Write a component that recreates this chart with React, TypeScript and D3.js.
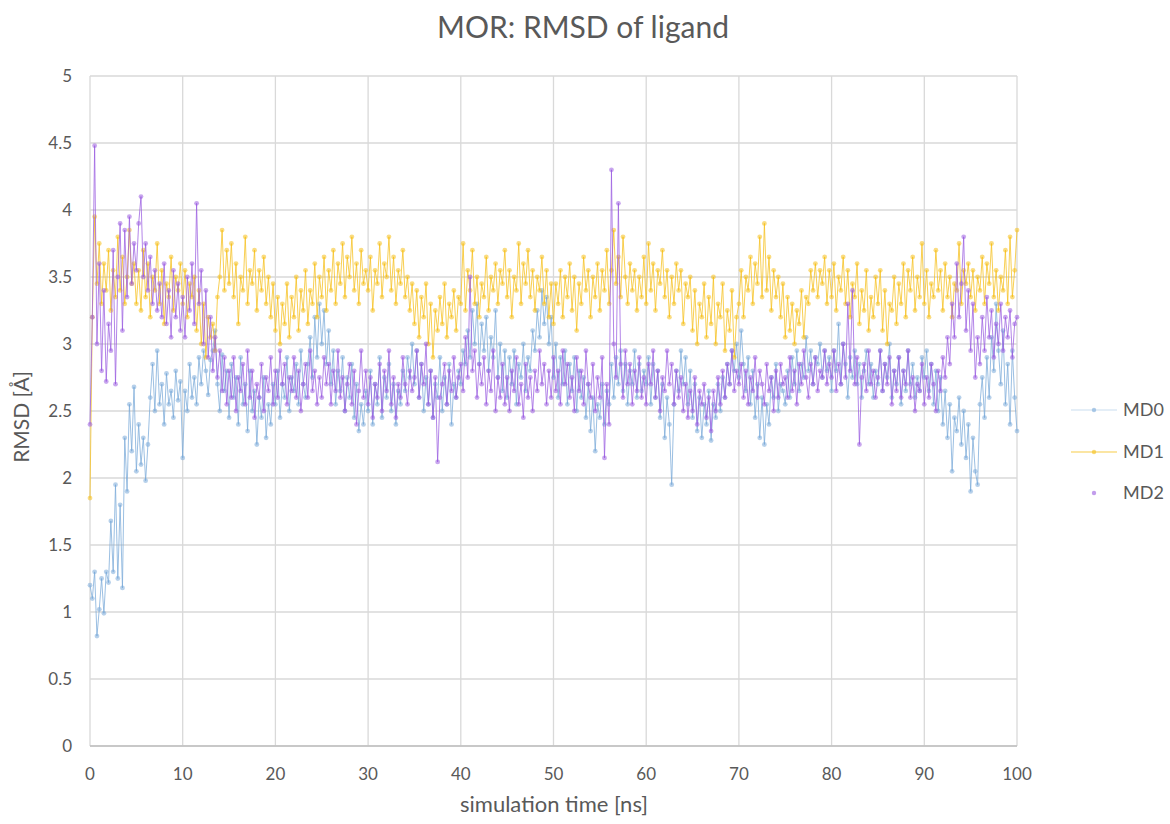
import React from "react";
import * as d3 from "d3";

const title = "MOR: RMSD of ligand";
const xLabel = "simulation time [ns]";
const yLabel = "RMSD [Å]";
const xTicks = [0, 10, 20, 30, 40, 50, 60, 70, 80, 90, 100];
const yTicks = [0, 0.5, 1, 1.5, 2, 2.5, 3, 3.5, 4, 4.5, 5];
const seriesNames = ["MD0", "MD1", "MD2"];
const seriesColors = ["#7aaad8", "#f5bf1a", "#9a5ce0"];

// RMSD values sampled every 0.25 ns, 0..100 ns
const md0 = [
  1.20, 1.10, 1.30, 0.82, 1.02, 1.25, 0.99, 1.30, 1.22, 1.68, 1.30, 1.95, 1.25, 1.80, 1.18, 2.30, 1.90, 2.55, 2.20, 2.68,
  2.05, 2.40, 2.10, 2.30, 1.98, 2.25, 2.60, 2.85, 2.50, 2.95, 2.55, 2.70, 2.40, 2.78, 2.55, 2.65, 2.45, 2.80, 2.58, 2.72,
  2.15, 2.65, 2.50, 2.85, 2.60, 2.75, 2.55, 2.90, 2.70, 2.95, 2.80, 2.62, 2.88, 2.95, 3.10, 2.70, 2.50, 2.92, 2.65, 2.80,
  2.45, 2.85, 2.60, 2.75, 2.40, 2.90, 2.55, 2.70, 2.35, 2.80, 2.50, 2.65, 2.25, 2.60, 2.45, 2.75, 2.30, 2.55, 2.40, 2.70,
  2.55, 2.80, 2.45, 2.70, 2.60, 2.90, 2.50, 2.75, 2.65, 2.85, 2.55, 2.95, 2.70, 2.60, 2.85, 3.05, 2.75, 3.20, 2.90, 3.30,
  3.00, 3.25, 2.85, 3.10, 2.70, 2.95, 2.55, 2.80, 2.65, 2.90, 2.50, 2.75, 2.60, 2.85, 2.45, 2.70, 2.35, 2.55, 2.40, 2.65,
  2.50, 2.80, 2.40, 2.70, 2.55, 2.90, 2.45, 2.75, 2.60, 2.85, 2.50, 2.70, 2.40, 2.65, 2.55, 2.80, 2.65, 2.90, 2.75, 3.00,
  2.70, 2.95, 2.60, 2.85, 2.50, 2.75, 2.55, 2.80, 2.45, 2.70, 2.60, 2.90, 2.50, 2.75, 2.55, 2.85, 2.40, 2.70, 2.60, 2.80,
  2.70, 2.95, 2.85, 3.10, 2.90, 3.25, 3.00, 3.30, 2.85, 3.15, 2.95, 3.20, 2.80, 3.05, 2.90, 3.25, 2.75, 3.00, 2.65, 2.95,
  2.60, 2.90, 2.70, 2.95, 2.55, 2.85, 2.75, 3.00, 2.65, 2.90, 2.80, 3.10, 2.95, 3.25, 3.05, 3.40, 3.15, 3.35, 3.00, 3.20,
  2.75, 3.00, 2.60, 2.90, 2.70, 2.95, 2.55, 2.85, 2.65, 2.90, 2.50, 2.80, 2.60, 2.75, 2.45, 2.70, 2.35, 2.60, 2.20, 2.55,
  2.45, 2.70, 2.40, 2.65, 2.55, 2.85, 2.60, 2.90, 2.70, 2.95, 2.65, 2.85, 2.55, 2.80, 2.70, 2.95, 2.60, 2.85, 2.65, 2.80,
  2.70, 2.90, 2.55, 2.85, 2.60, 2.80, 2.45, 2.70, 2.30, 2.60, 2.40, 1.95, 2.55, 2.80, 2.65, 2.95, 2.70, 2.90, 2.55, 2.80,
  2.45, 2.70, 2.35, 2.60, 2.30, 2.55, 2.40, 2.65, 2.28, 2.55, 2.45, 2.70, 2.50, 2.75, 2.60, 2.85, 2.70, 2.95, 2.80, 3.00,
  2.75, 3.10, 2.85, 2.65, 2.90, 2.55, 2.80, 2.45, 2.70, 2.30, 2.60, 2.25, 2.55, 2.40, 2.75, 2.60, 2.85, 2.50, 2.70, 2.65,
  2.55, 2.80, 2.60, 2.90, 2.70, 2.95, 2.65, 2.85, 2.75, 3.05, 2.80, 2.95, 2.70, 2.90, 2.85, 3.00, 2.75, 2.95, 2.80, 2.90,
  2.65, 2.95, 2.80, 3.15, 2.70, 3.00, 2.85, 2.60, 2.90, 2.75, 2.95, 2.70, 2.85, 2.60, 2.80, 2.95, 2.70, 2.85, 2.60, 2.80,
  2.70, 2.95, 2.65, 2.85, 2.75, 3.00, 2.60, 2.80, 2.70, 2.90, 2.55, 2.80, 2.65, 2.95, 2.70, 2.85, 2.60, 2.75, 2.65, 2.90,
  2.75, 2.95, 2.65, 2.85, 2.55, 2.80, 2.50, 2.75, 2.40, 2.65, 2.30, 2.55, 2.05, 2.45, 2.35, 2.60, 2.25, 2.50, 2.15, 2.40,
  1.90, 2.30, 2.05, 1.95, 2.55, 2.75, 2.45, 2.90, 2.60, 3.05, 2.80, 3.30, 2.95, 2.70, 3.10, 2.55, 2.85, 2.40, 2.95, 2.60,
  2.35,
];

const md1 = [
  1.85, 3.20, 3.95, 3.45, 3.75, 3.30, 3.60, 3.40, 3.70, 3.25, 3.55, 3.35, 3.80, 3.40, 3.65, 3.30, 3.50, 3.85, 3.45, 3.60,
  3.30, 3.55, 3.25, 3.70, 3.35, 3.60, 3.20, 3.50, 3.40, 3.75, 3.30, 3.55, 3.15, 3.45, 3.35, 3.65, 3.25, 3.50, 3.40, 3.60,
  3.30, 3.55, 3.20, 3.45, 3.35, 3.50, 3.10, 3.40, 3.00, 3.30, 2.90, 3.20, 3.05, 3.15, 2.95, 3.35, 3.50, 3.85, 3.40, 3.70,
  3.45, 3.75, 3.35, 3.60, 3.15, 3.50, 3.40, 3.80, 3.30, 3.55, 3.45, 3.70, 3.25, 3.55, 3.40, 3.65, 3.30, 3.50, 3.20, 3.45,
  3.10, 3.35, 3.00, 3.30, 3.15, 3.45, 3.05, 3.35, 3.20, 3.50, 3.10, 3.40, 3.25, 3.55, 3.15, 3.40, 3.30, 3.60, 3.20, 3.50,
  3.35, 3.65, 3.25, 3.55, 3.40, 3.70, 3.30, 3.60, 3.45, 3.75, 3.35, 3.65, 3.50, 3.80, 3.40, 3.60, 3.30, 3.70, 3.45, 3.55,
  3.40, 3.65, 3.25, 3.55, 3.45, 3.75, 3.35, 3.60, 3.50, 3.80, 3.40, 3.65, 3.30, 3.55, 3.45, 3.70, 3.35, 3.50, 3.25, 3.45,
  3.15, 3.40, 3.05, 3.35, 3.20, 3.45, 3.00, 3.30, 2.90, 3.25, 3.10, 3.35, 3.15, 3.45, 3.05, 3.30, 3.20, 3.40, 3.10, 3.35,
  3.30, 3.75, 3.25, 3.55, 3.40, 3.70, 3.30, 3.50, 3.20, 3.45, 3.35, 3.65, 3.25, 3.50, 3.40, 3.60, 3.30, 3.55, 3.45, 3.70,
  3.35, 3.55, 3.20, 3.50, 3.40, 3.75, 3.30, 3.60, 3.45, 3.70, 3.35, 3.55, 3.25, 3.50, 3.40, 3.65, 3.30, 3.55, 3.20, 3.45,
  3.15, 3.45, 3.30, 3.55, 3.20, 3.50, 3.35, 3.60, 3.25, 3.50, 3.10, 3.45, 3.30, 3.65, 3.40, 3.55, 3.20, 3.50, 3.35, 3.60,
  3.25, 3.55, 3.40, 3.70, 3.30, 3.55, 3.85, 3.45, 3.65, 3.35, 3.80, 3.50, 3.30, 3.60, 3.40, 3.55, 3.25, 3.50, 3.35, 3.65,
  3.30, 3.75, 3.40, 3.60, 3.25, 3.55, 3.45, 3.70, 3.35, 3.55, 3.20, 3.50, 3.30, 3.60, 3.40, 3.55, 3.15, 3.45, 3.35, 3.50,
  3.10, 3.40, 3.00, 3.30, 3.20, 3.45, 3.05, 3.35, 3.15, 3.50, 3.00, 3.30, 3.20, 3.45, 2.95, 3.25, 3.10, 3.40, 2.90, 3.20,
  3.30, 3.55, 3.20, 3.50, 3.40, 3.65, 3.30, 3.60, 3.45, 3.80, 3.35, 3.90, 3.40, 3.65, 3.25, 3.55, 3.35, 3.50, 3.20, 3.45,
  3.05, 3.35, 3.10, 3.30, 3.00, 3.25, 3.15, 3.40, 3.05, 3.35, 3.30, 3.55, 3.40, 3.60, 3.35, 3.55, 3.45, 3.65, 3.30, 3.55,
  3.35, 3.60, 3.25, 3.50, 3.40, 3.65, 3.30, 3.55, 3.20, 3.45, 3.35, 3.60, 3.15, 3.40, 3.25, 3.55, 3.10, 3.35, 3.20, 3.50,
  3.30, 3.55, 3.10, 3.40, 3.00, 3.30, 3.25, 3.50, 3.15, 3.45, 3.30, 3.60, 3.20, 3.55, 3.40, 3.65, 3.25, 3.50, 3.35, 3.75,
  3.30, 3.55, 3.20, 3.45, 3.35, 3.70, 3.40, 3.55, 3.25, 3.60, 3.35, 3.50, 3.20, 3.45, 3.40, 3.75, 3.30, 3.55, 3.45, 3.60,
  3.35, 3.55, 3.25, 3.50, 3.40, 3.65, 3.30, 3.60, 3.45, 3.75, 3.35, 3.55, 3.25, 3.50, 3.40, 3.70, 3.30, 3.80, 3.35, 3.55,
  3.85,
];

const md2 = [
  2.40, 3.20, 4.48, 3.00, 3.60, 2.80, 3.40, 2.72, 3.15, 2.95, 3.70, 2.70, 3.50, 3.90, 3.10, 3.85, 3.35, 3.95, 3.45, 3.75,
  3.55, 3.90, 4.10, 3.50, 3.75, 3.40, 3.65, 3.30, 3.55, 3.25, 3.45, 3.20, 3.60, 3.15, 3.40, 3.05, 3.55, 3.20, 3.45, 3.10,
  3.35, 3.05, 3.50, 3.25, 3.60, 3.15, 4.05, 3.30, 3.55, 3.00, 3.40, 2.90, 3.20, 2.80, 3.05, 2.75, 2.95, 2.65, 2.90, 2.55,
  2.80, 2.60, 2.90, 2.50, 2.75, 2.65, 2.85, 2.55, 2.95, 2.60, 2.80, 2.45, 2.70, 2.60, 2.85, 2.50, 2.75, 2.65, 2.90, 2.55,
  2.80, 2.60, 2.95, 2.70, 2.85, 2.55, 2.75, 2.65, 2.90, 2.60, 2.80, 2.50, 2.70, 2.85, 2.60, 2.95, 2.65, 2.80, 2.55, 2.75,
  2.60, 2.90, 2.70, 2.85, 2.55, 2.80, 2.65, 2.95, 2.60, 2.75, 2.50, 2.70, 2.85, 2.55, 2.80, 2.40, 2.65, 2.95, 2.60, 2.80,
  2.55, 2.75, 2.45, 2.70, 2.60, 2.85, 2.50, 2.80, 2.65, 2.95, 2.55, 2.75, 2.45, 2.70, 2.60, 2.90, 2.70, 2.55, 2.80, 2.65,
  2.75, 2.95, 2.60, 2.85, 2.70, 3.00, 2.55, 2.80, 2.45, 2.75, 2.12, 2.60, 2.70, 2.85, 2.55, 2.80, 2.65, 2.90, 2.60, 2.75,
  2.85, 2.65, 3.05, 2.75, 3.50, 2.80, 2.95, 2.60, 2.85, 2.70, 2.90, 2.55, 2.80, 2.65, 2.95, 2.50, 2.75, 2.60, 2.85, 2.55,
  2.75, 2.50, 2.80, 2.65, 2.90, 2.55, 2.70, 2.45, 2.85, 2.60, 2.75, 2.50, 2.80, 2.65, 2.95, 2.70, 2.85, 2.55, 2.80, 2.60,
  2.90, 2.65, 2.80, 2.55, 2.95, 2.70, 2.85, 2.60, 2.75, 2.50, 2.90, 2.65, 2.80, 2.55, 2.95, 2.70, 2.60, 2.85, 2.50, 2.75,
  2.60, 2.90, 2.15, 2.70, 2.40, 4.30, 3.00, 2.75, 4.05, 2.85, 2.60, 2.95, 2.70, 2.85, 2.55, 2.80, 2.65, 2.90, 2.60, 2.75,
  2.55, 2.85, 2.70, 2.95, 2.60, 2.80, 2.50, 2.75, 2.65, 2.95, 2.70, 2.85, 2.55, 2.80, 2.60, 2.75, 2.50, 2.70, 2.45, 2.65,
  2.50, 2.75, 2.40, 2.65, 2.55, 2.70, 2.45, 2.60, 2.35, 2.65, 2.50, 2.75, 2.55, 2.80, 2.60, 2.85, 2.70, 2.95, 2.65, 2.80,
  2.70, 2.85, 2.60, 2.80, 2.55, 2.75, 2.65, 2.90, 2.60, 2.80, 2.70, 2.55, 2.85, 2.65, 2.75, 2.50, 2.80, 2.60, 2.85, 2.70,
  2.75, 2.60, 2.90, 2.65, 2.80, 2.55, 2.85, 2.70, 2.95, 2.75, 2.60, 2.85, 2.70, 2.90, 2.65, 2.80, 2.75, 2.95, 2.70, 2.85,
  2.75, 2.95, 2.65, 2.85, 2.70, 3.00, 2.75, 3.30, 2.80, 3.40, 2.70, 2.90, 2.25, 2.75, 2.85, 2.65, 2.95, 2.70, 2.80, 2.60,
  2.75, 2.95, 2.65, 2.85, 2.70, 2.90, 2.55, 2.80, 2.65, 2.90, 2.60, 2.80, 2.70, 2.95, 2.60, 2.75, 2.50, 2.70, 2.65, 2.85,
  2.55, 2.75, 2.60, 2.85, 2.70, 2.50, 2.80, 2.65, 2.90, 2.75, 3.05, 2.85, 3.30, 3.05, 3.60, 3.20, 3.45, 3.80, 3.10, 3.40,
  2.95, 3.30, 2.75, 3.05, 2.85, 3.20, 2.95, 3.35, 3.05, 3.25, 2.90, 3.15, 3.00, 3.30, 2.95, 3.20, 3.05, 3.25, 2.90, 3.15,
  3.20,
];

const seriesValues = [md0, md1, md2];

const W = 1170;
const H = 824;
const M = { left: 90, right: 1017, top: 76, bottom: 746 };
const FONT = "Lato, 'Open Sans', sans-serif";
const TEXT = "#595959";

export default function App() {
  const x = d3.scaleLinear().domain([0, 100]).range([M.left, M.right]);
  const y = d3.scaleLinear().domain([0, 5]).range([M.bottom, M.top]);

  const series = seriesValues.map((vals, s) => {
    const n = vals.length;
    const pts = vals.map((v, i) => [(i * 100) / (n - 1), v] as [number, number]);
    return { name: seriesNames[s], color: seriesColors[s], pts };
  });

  const line = d3
    .line<[number, number]>()
    .x((d) => x(d[0]))
    .y((d) => y(d[1]));

  const legendY = [410, 452, 493];

  return (
    <svg
      width={W}
      height={H}
      style={{ position: "absolute", left: 0, top: 0, background: "#fff", fontFamily: FONT }}
    >
      <rect x={0} y={0} width={W} height={H} fill="#fff" />
      <text x={583} y={38} textAnchor="middle" fontSize={30} fill={TEXT}>
        {title}
      </text>
      {yTicks.map((t) => (
        <g key={"y" + t}>
          <line x1={M.left} x2={M.right} y1={y(t)} y2={y(t)} stroke="#d9d9d9" strokeWidth={1.3} />
          <text x={72} y={y(t) + 6} textAnchor="end" fontSize={17} fill={TEXT}>
            {t}
          </text>
        </g>
      ))}
      {xTicks.map((t) => (
        <g key={"x" + t}>
          <line x1={x(t)} x2={x(t)} y1={M.top} y2={M.bottom} stroke="#d9d9d9" strokeWidth={1.3} />
          <text x={x(t)} y={780} textAnchor="middle" fontSize={17} fill={TEXT}>
            {t}
          </text>
        </g>
      ))}
      <line x1={M.left} x2={M.right} y1={M.bottom} y2={M.bottom} stroke="#bfbfbf" strokeWidth={1.3} />
      <text x={554} y={812} textAnchor="middle" fontSize={22} fill={TEXT}>
        {xLabel}
      </text>
      <text
        transform={`translate(29, 417) rotate(-90)`}
        textAnchor="middle"
        fontSize={21}
        fill={TEXT}
      >
        {yLabel}
      </text>
      {series.map((s) => (
        <g key={s.name}>
          <path d={line(s.pts) || ""} fill="none" stroke={s.color} strokeWidth={1} strokeOpacity={0.75} />
          {s.pts.map((p, i) => (
            <circle key={i} cx={x(p[0])} cy={y(p[1])} r={2.4} fill={s.color} fillOpacity={0.55} />
          ))}
        </g>
      ))}
      {series.map((s, i) => (
        <g key={"leg" + s.name}>
          {i < 2 && (
            <line x1={1071} x2={1117} y1={legendY[i]} y2={legendY[i]} stroke={s.color} strokeWidth={1} strokeOpacity={i === 0 ? 0.4 : 0.8} />
          )}
          <circle cx={1094} cy={legendY[i]} r={2.2} fill={s.color} fillOpacity={0.6} />
          <text x={1123} y={legendY[i] + 6} fontSize={18} fill={TEXT}>
            {s.name}
          </text>
        </g>
      ))}
    </svg>
  );
}
